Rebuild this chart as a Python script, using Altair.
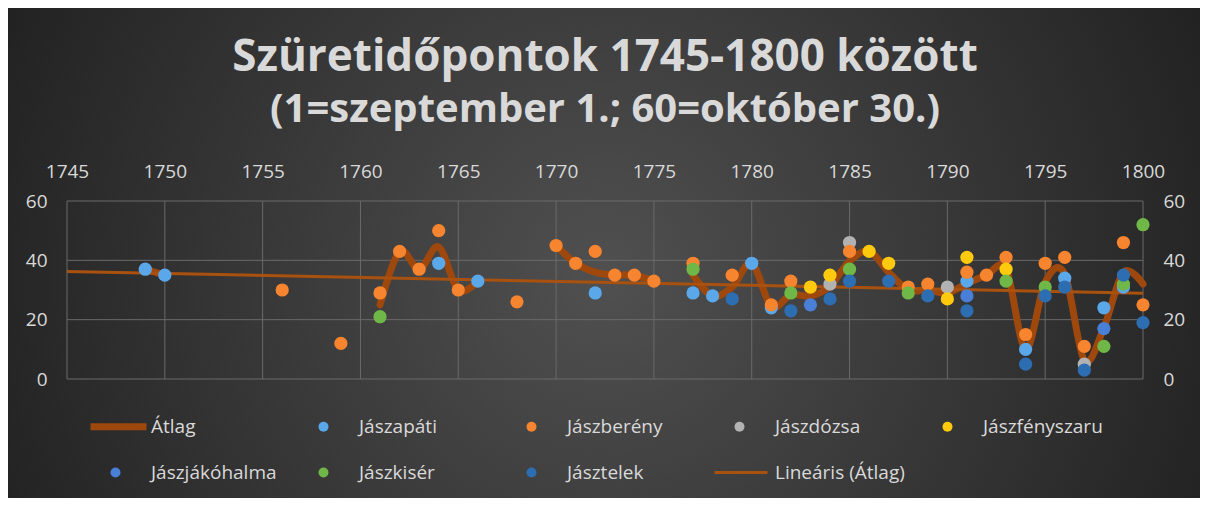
import altair as alt
import pandas as pd

# ---------------- data ----------------
series_names = ["Jászapáti", "Jászberény", "Jászdózsa", "Jászfényszaru",
                "Jászjákóhalma", "Jászkisér", "Jásztelek"]
series_colors = ["#5AA8EA", "#F7842E", "#B2B2B2", "#FFC90E",
                 "#4A7FD8", "#6FB746", "#2D6DB2"]

apati_years = [1749, 1750, 1764, 1766, 1772, 1777, 1778, 1780, 1781, 1791, 1794, 1796, 1798, 1799]
apati_values = [37, 35, 39, 33, 29, 29, 28, 39, 24, 33, 10, 34, 24, 31]

bereny_years = [1756, 1759, 1761, 1762, 1763, 1764, 1765, 1768, 1770, 1771, 1772, 1773, 1774, 1775,
                1777, 1779, 1781, 1782, 1785, 1788, 1789, 1791, 1792, 1793, 1794, 1795, 1796,
                1797, 1799, 1800]
bereny_values = [30, 12, 29, 43, 37, 50, 30, 26, 45, 39, 43, 35, 35, 33,
                 39, 35, 25, 33, 43, 31, 32, 36, 35, 41, 15, 39, 41,
                 11, 46, 25]

dozsa_years = [1784, 1785, 1790, 1797]
dozsa_values = [32, 46, 31, 5]

fenyszaru_years = [1783, 1784, 1786, 1787, 1790, 1791, 1793]
fenyszaru_values = [31, 35, 43, 39, 27, 41, 37]

jakohalma_years = [1783, 1791, 1798]
jakohalma_values = [25, 28, 17]

kiser_years = [1761, 1777, 1782, 1785, 1788, 1793, 1795, 1798, 1799, 1800]
kiser_values = [21, 37, 29, 37, 29, 33, 31, 11, 32, 52]

telek_years = [1779, 1782, 1784, 1785, 1787, 1789, 1791, 1794, 1795, 1796, 1797, 1799, 1800]
telek_values = [27, 23, 27, 33, 33, 28, 23, 5, 28, 31, 3, 35, 19]

x_ticks = list(range(1745, 1801, 5))
y_ticks = [0, 20, 40, 60]

avg_name = "Átlag"
lin_name = "Lineáris (Átlag)"
avg_color = "#9E480E"
lin_color = "#A9510F"

# ---------------- tables ----------------
all_years = [apati_years, bereny_years, dozsa_years, fenyszaru_years,
             jakohalma_years, kiser_years, telek_years]
all_values = [apati_values, bereny_values, dozsa_values, fenyszaru_values,
              jakohalma_values, kiser_values, telek_values]
rows = []
for name, ys, vs in zip(series_names, all_years, all_values):
    for y, v in zip(ys, vs):
        rows.append({"year": y, "value": v, "series": name})
points = pd.DataFrame(rows)
draw_order = {"Jászdózsa": 0, "Jászapáti": 1, "Jászberény": 2, "Jászfényszaru": 3,
              "Jászjákóhalma": 4, "Jászkisér": 5, "Jásztelek": 6}
points["ord"] = points["series"].map(draw_order)
points = points.sort_values(["ord", "year"]).reset_index(drop=True)

avg = points.groupby("year", as_index=False)["value"].mean().sort_values("year")
avg["seg"] = (avg["year"].diff().fillna(1) > 1).cumsum()
avg["series"] = avg_name

# ---------------- scales ----------------
domain = [avg_name] + series_names + [lin_name]
thick_path = "M -5 -0.7 L 6.2 -0.7 L 6.2 0.7 L -5 0.7 Z"
thin_path = "M -5 -0.3 L 5.6 -0.3 L 5.6 0.3 L -5 0.3 Z"
color_scale = alt.Scale(domain=domain, range=[avg_color] + series_colors + [lin_color])
shape_scale = alt.Scale(domain=domain, range=[thick_path] + ["circle"] * 7 + [thin_path])

W, H = 1076, 178
PL, PT, PR, PB = 59, 193, 57, 119

label_font = "Open Sans"
label_color = "#D9D9D9"
grid_color = "#6A6A6A"

legend = alt.Legend(
    title=None, orient="none", legendX=39, legendY=216, direction="horizontal",
    columns=5, gridAlign="all", columnPadding=17, rowPadding=26,
    symbolSize=100, labelFont=label_font, labelFontSize=19, labelColor=label_color,
    labelOffset=26, symbolOpacity=1, symbolStrokeWidth=0,
)

x_scale = alt.Scale(domain=[1745, 1800], nice=False, zero=False)
y_scale = alt.Scale(domain=[0, 60], nice=False)

x_enc = alt.X("year:Q", scale=x_scale,
              axis=alt.Axis(orient="top", values=x_ticks, format="d", title=None,
                            domain=False, ticks=False, grid=False, zindex=1, labelFlush=False,
                            labelFont=label_font, labelFontSize=19,
                            labelColor=label_color, labelPadding=20))

bg = alt.Chart(pd.DataFrame({"k": [0]})).mark_rect(
    fill=alt.RadialGradient(
        gradient="radial",
        stops=[alt.GradientStop(offset=0, color="#505050"),
               alt.GradientStop(offset=1, color="#1C1C1C")],
        x1=0.5, y1=0.52, r1=0, x2=0.5, y2=0.52, r2=0.62),
).encode(x=alt.value(-PL), x2=alt.value(W + PR), y=alt.value(-PT), y2=alt.value(H + PB))

vgrid = alt.Chart(pd.DataFrame({"year": x_ticks})).mark_rule(
    color=grid_color, strokeWidth=1).encode(x=x_enc)
hgrid = alt.Chart(pd.DataFrame({"value": y_ticks})).mark_rule(
    color=grid_color, strokeWidth=1).encode(
    y=alt.Y("value:Q", scale=y_scale, axis=None))

avg_line = alt.Chart(avg).mark_line(interpolate="cardinal", strokeWidth=7,
                                    strokeCap="round", strokeJoin="round").encode(
    x=x_enc,
    y=alt.Y("value:Q", scale=y_scale,
            axis=alt.Axis(orient="left", values=y_ticks, title=None, domain=False, ticks=False,
                          grid=False, zindex=1, labelFlush=False,
                          labelFont=label_font, labelFontSize=19, labelColor=label_color,
                          labelPadding=20)),
    detail="seg:N",
    color=alt.Color("series:N", scale=color_scale, legend=legend),
)

lin_line = alt.Chart(avg).transform_regression(
    "year", "value", extent=[1745, 1800]
).transform_calculate(series=f"'{lin_name}'").mark_line(strokeWidth=3).encode(
    x=x_enc,
    y=alt.Y("value:Q", scale=y_scale, axis=None),
    color=alt.Color("series:N", scale=color_scale, legend=legend),
)

pts = alt.Chart(points).mark_point(filled=True, size=175, opacity=1).encode(
    x=x_enc,
    y=alt.Y("value:Q", scale=y_scale,
            axis=alt.Axis(orient="right", values=y_ticks, title=None, domain=False, ticks=False,
                          grid=False, zindex=1, labelFlush=False,
                          labelFont=label_font, labelFontSize=19,
                          labelColor=label_color, labelPadding=20)),
    color=alt.Color("series:N", scale=color_scale, legend=legend),
    shape=alt.Shape("series:N", scale=shape_scale, legend=legend),
)

chart = alt.layer(bg, vgrid, hgrid, avg_line, lin_line, pts).resolve_axis(
    y="independent").properties(
    width=W, height=H,
    autosize=alt.AutoSizeParams(type="none"),
    padding={"left": PL, "top": PT, "right": PR, "bottom": PB},
    background="#2E2E2E",
    title=alt.TitleParams(
        text="Szüretidőpontok 1745-1800 között",
        subtitle="(1=szeptember 1.; 60=október 30.)",
        font="Open Sans", fontSize=44, fontWeight="bold", color="#D9D9D9",
        subtitleFont="Open Sans", subtitleFontSize=40, subtitleFontWeight="bold",
        subtitleColor="#D9D9D9", subtitlePadding=10, anchor="middle", offset=-122,
    ),
).configure_view(stroke=None)

chart.save("out.html", embed_options={"renderer": "svg", "actions": False})
